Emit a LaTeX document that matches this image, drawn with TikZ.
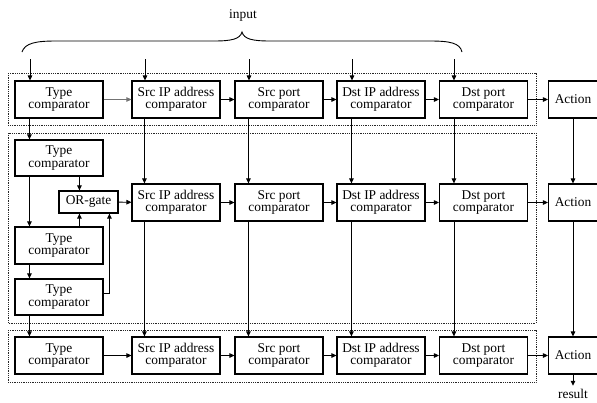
\documentclass[tikz,border=0pt]{standalone}
\usepackage{fontspec}
\setmainfont{Liberation Serif}
\usetikzlibrary{arrows.meta}
\begin{document}
\begin{tikzpicture}[x=1pt,y=-1pt,
  font=\fontsize{13.4}{12.5}\selectfont,
  box/.style={draw,line width=1.1pt,minimum width=88pt,minimum height=37pt,inner sep=0pt,align=center},
  actbox/.style={box,minimum width=49pt},
  orbox/.style={draw,line width=1.1pt,minimum width=59pt,minimum height=22pt,inner sep=0pt},
  arr/.style={line width=0.9pt,-{Triangle[length=5pt,width=4.5pt]}},
  thinarr/.style={arr,line width=0.6pt,draw=black!55},
  frame/.style={draw=black!85,line width=0.85pt,dash pattern=on 0.9pt off 0.9pt}]
\useasboundingbox (0,0) rectangle (597,402);

% dotted frames around the three stages
\draw[frame] (8,73) rectangle (536,125);
\draw[frame] (8,133) rectangle (536,323);
\draw[frame] (8,330) rectangle (536,382);

% input brace and label
\draw[line width=0.9pt] (22,52) .. controls (25,43) and (36,41) .. (56,41) -- (214,41)
  .. controls (232,41) and (240,39) .. (242,32)
  .. controls (244,39) and (252,41) .. (270,41) -- (430,41)
  .. controls (450,41) and (460,43) .. (462,52);
\node (inlabel) at (243,15) {input};

% stage 1
\node[box] (t0) at (59,99.5) {Type\\comparator};
\node[box] (s0) at (176,99.5) {Src IP address\\comparator};
\node[box] (p0) at (279,99.5) {Src port\\comparator};
\node[box] (d0) at (381,99.5) {Dst IP address\\comparator};
\node[box] (q0) at (483.5,99.5) {Dst port\\comparator};
\node[actbox] (a0) at (573,99.5) {Action};

% stage 2
\node[box,minimum height=36pt] (t1) at (59,158) {Type\\comparator};
\node[orbox] (or) at (88.5,202) {OR-gate};
\node[box,minimum height=37pt] (t2) at (59,245.5) {Type\\comparator};
\node[box,minimum height=36pt] (t3) at (59,297) {Type\\comparator};
\node[box] (s1) at (176,202.5) {Src IP address\\comparator};
\node[box] (p1) at (279,202.5) {Src port\\comparator};
\node[box] (d1) at (381,202.5) {Dst IP address\\comparator};
\node[box] (q1) at (483.5,202.5) {Dst port\\comparator};
\node[actbox] (a1) at (573,202.5) {Action};

% stage 3
\node[box] (t4) at (59,355.5) {Type\\comparator};
\node[box] (s2) at (176,355.5) {Src IP address\\comparator};
\node[box] (p2) at (279,355.5) {Src port\\comparator};
\node[box] (d2) at (381,355.5) {Dst IP address\\comparator};
\node[box] (q2) at (483.5,355.5) {Dst port\\comparator};
\node[actbox] (a2) at (573,355.5) {Action};
\node (res) at (573,394) {result};

% input feeds
\coordinate (in1) at (30,59);
\coordinate (in2) at (145,59);
\coordinate (in3) at (249,59);
\coordinate (in4) at (352,59);
\coordinate (in5) at (454,59);
\draw[arr] (in1) -- (in1 |- t0.north);
\draw[arr] (in2) -- (in2 |- s0.north);
\draw[arr] (in3) -- (in3 |- p0.north);
\draw[arr] (in4) -- (in4 |- d0.north);
\draw[arr] (in5) -- (in5 |- q0.north);

% horizontal chains
\draw[thinarr] (t0) -- (s0);
\foreach \r in {0,1,2}{
  \draw[arr] (s\r) -- (p\r);
  \draw[arr] (p\r) -- (d\r);
  \draw[arr] (d\r) -- (q\r);
  \draw[arr] (q\r) -- (a\r);
}
\draw[arr] (or) -- (s1);
\draw[arr] (t4) -- (s2);

% vertical links between stages
\foreach \u/\v in {s0/s1,s1/s2}{
  \draw[arr] ([xshift=13pt]\u.south west) -- ([xshift=13pt]\v.north west);}
\foreach \u/\v in {p0/p1,p1/p2}{
  \draw[arr] ([xshift=14pt]\u.south west) -- ([xshift=14pt]\v.north west);}
\foreach \u/\v in {d0/d1,d1/d2,q0/q1,q1/q2}{
  \draw[arr] ([xshift=15pt]\u.south west) -- ([xshift=15pt]\v.north west);}
\foreach \u/\v in {t0/t1,t1/t2,t2/t3,t3/t4}{
  \draw[arr] ([xshift=15pt]\u.south west) -- ([xshift=15pt]\v.north west);}
\draw[arr] (a0) -- (a1);
\draw[arr] (a1) -- (a2);
\draw[arr] (a2) -- (res);

% OR-gate inputs
\draw[arr] ([xshift=65pt]t1.south west) -- ([xshift=21pt]or.north west);
\draw[arr] ([xshift=65pt]t2.north west) -- ([xshift=21pt]or.south west);
\draw[arr] ([yshift=4pt]t3.east) -| ([xshift=51pt]or.south west);
\end{tikzpicture}
\end{document}
